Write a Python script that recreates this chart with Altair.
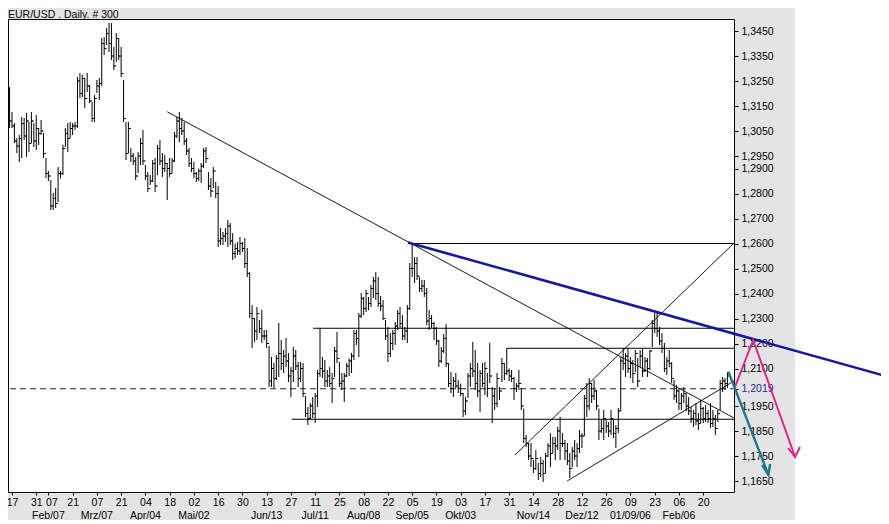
import altair as alt
import pandas as pd

# ------------------------------------------------------------------
# Data: EUR/USD daily bars, prices in pips above 1.0000 (3226 -> 1.3226)
# bar index 0 = 17 Jan 2005 (trading days)
# ------------------------------------------------------------------
FIRST_BAR = -1
FIRST_OPEN = 3140

HIGH = [
    3226, 3126, 3082, 3022, 3034, 3106, 3102, 3122, 3086, 3126,
    3082, 3114, 3062, 3094, 3042, 2942, 2890, 2854, 2802, 2822,
    2906, 2890, 2994, 3062, 3082, 3086, 3082, 3086, 3266, 3282,
    3274, 3262, 3282, 3234, 3166, 3194, 3254, 3262, 3422, 3426,
    3462, 3482, 3482, 3386, 3442, 3422, 3386, 3254, 3086, 3086,
    2982, 2962, 2946, 2966, 3022, 3054, 2914, 2886, 2874, 2934,
    2942, 2994, 3014, 2962, 2954, 2922, 2942, 2942, 3046, 3106,
    3126, 3102, 3086, 3022, 2982, 2942, 2926, 2886, 2900, 2922,
    2982, 2986, 2886, 2862, 2906, 2846, 2830, 2662, 2646, 2662,
    2694, 2682, 2642, 2600, 2606, 2626, 2606, 2622, 2582, 2486,
    2354, 2302, 2346, 2294, 2334, 2254, 2254, 2190, 2146, 2122,
    2154, 2282, 2214, 2174, 2222, 2162, 2106, 2186, 2174, 2126,
    2126, 2122, 1990, 1946, 1962, 1986, 2002, 2094, 2262, 2146,
    2134, 2094, 2106, 2082, 2186, 2246, 2126, 2082, 2082, 2122,
    2140, 2162, 2254, 2254, 2322, 2402, 2386, 2414, 2386, 2434,
    2466, 2486, 2466, 2390, 2374, 2294, 2266, 2242, 2254, 2286,
    2334, 2346, 2314, 2266, 2354, 2522, 2602, 2546, 2546, 2466,
    2454, 2454, 2422, 2334, 2314, 2286, 2266, 2214, 2186, 2238,
    2278, 2122, 2086, 2066, 2082, 2054, 2040, 2002, 1986, 2082,
    2122, 2206, 2174, 2122, 2094, 2122, 2126, 2082, 2202,
    2026, 2022, 2082, 2026, 2142, 2122, 2182, 2100, 2094, 2066,
    2042, 2094, 2022, 1940, 1834, 1802, 1802, 1734, 1774, 1722,
    1746, 1734, 1762, 1802, 1842, 1826, 1826, 1866, 1906, 1842,
    1814, 1802, 1762, 1786, 1814, 1802, 1854, 1842, 1994, 2042,
    2062, 2042, 2054, 2014, 1940, 1894, 1934, 1894, 1886, 1934,
    1894, 1874, 1942, 2146, 2182, 2162, 2182, 2146, 2134, 2174,
    2142, 2174, 2182, 2146, 2142, 2174, 2294, 2322, 2326, 2266,
    2242, 2202, 2146, 2174, 2126, 2054, 2034, 2022, 2002, 2026,
    2000, 1986, 1946, 1934, 1962, 1922, 1974, 1946, 1954, 1934,
    1962, 1934, 1914, 1934, 2054, 2066, 2062, 2086,
]

LOW = [
    3062, 3062, 3002, 2962, 2926, 2942, 3014, 2946, 2966, 3002,
    2986, 2974, 2994, 3034, 2942, 2862, 2850, 2734, 2734, 2742,
    2766, 2860, 2874, 2986, 2966, 3022, 3034, 3054, 3062, 3182,
    3186, 3142, 3206, 3162, 3086, 3086, 3202, 3174, 3230, 3354,
    3394, 3366, 3334, 3294, 3326, 3334, 3266, 3086, 2934, 2962,
    2926, 2914, 2854, 2882, 2914, 2914, 2854, 2806, 2834, 2846,
    2806, 2874, 2914, 2866, 2886, 2774, 2866, 2882, 2926, 3022,
    3006, 3034, 2994, 2954, 2906, 2886, 2862, 2846, 2850, 2842,
    2902, 2922, 2814, 2786, 2822, 2782, 2586, 2594, 2594, 2606,
    2586, 2594, 2534, 2540, 2554, 2554, 2566, 2502, 2466, 2302,
    2182, 2206, 2214, 2242, 2202, 2214, 2182, 2026, 2026, 2022,
    2054, 2066, 2094, 2082, 2106, 2046, 1986, 2046, 2094, 2026,
    2046, 1986, 1906, 1874, 1894, 1902, 1882, 1946, 2066, 2062,
    2026, 2026, 2026, 1962, 2066, 2122, 2026, 2014, 1966, 2066,
    2070, 2082, 2134, 2194, 2146, 2302, 2314, 2326, 2334, 2346,
    2382, 2374, 2346, 2330, 2294, 2214, 2126, 2146, 2174, 2194,
    2254, 2262, 2214, 2214, 2202, 2334, 2466, 2442, 2454, 2406,
    2406, 2386, 2274, 2254, 2262, 2214, 2194, 2106, 2122, 2162,
    2106, 2026, 2002, 1986, 2022, 2002, 1990, 1906, 1914, 1982,
    2026, 2066, 2014, 1986, 1926, 2026, 1994, 1986, 2042,
    1882, 1934, 1946, 1974, 2046, 2054, 2074, 2050, 2046, 1974,
    2006, 2014, 1934, 1802, 1786, 1734, 1706, 1682, 1694, 1654,
    1666, 1646, 1682, 1746, 1706, 1762, 1734, 1774, 1734, 1786,
    1734, 1714, 1662, 1706, 1734, 1706, 1762, 1782, 1830, 1906,
    1934, 1962, 1974, 1934, 1814, 1842, 1814, 1842, 1826, 1834,
    1822, 1782, 1842, 1930, 2094, 2066, 2082, 2062, 2042, 2086,
    2026, 2106, 2066, 2086, 2066, 2094, 2186, 2242, 2226, 2194,
    2162, 2086, 2074, 2106, 2042, 1974, 1962, 1934, 1934, 1962,
    1930, 1914, 1882, 1866, 1874, 1854, 1882, 1882, 1886, 1882,
    1862, 1866, 1834, 1886, 1934, 2006, 2014, 2022,
]

CLOSE = [
    3090, 3070, 3010, 2990, 3020, 3080, 3030, 3090, 3000, 3090,
    3010, 3060, 3040, 3050, 2960, 2880, 2870, 2750, 2780, 2760,
    2880, 2880, 2980, 3040, 3020, 3060, 3070, 3070, 3250, 3200,
    3260, 3180, 3230, 3170, 3100, 3180, 3230, 3240, 3400, 3380,
    3440, 3400, 3350, 3310, 3420, 3350, 3280, 3100, 2960, 3060,
    2950, 2930, 2870, 2950, 3000, 2930, 2870, 2820, 2850, 2920,
    2830, 2980, 2930, 2900, 2920, 2900, 2880, 2930, 3030, 3090,
    3060, 3050, 3010, 2970, 2920, 2900, 2880, 2860, 2890, 2910,
    2970, 2940, 2830, 2810, 2890, 2800, 2610, 2620, 2630, 2640,
    2670, 2610, 2560, 2580, 2570, 2600, 2580, 2520, 2480, 2320,
    2300, 2250, 2320, 2260, 2230, 2230, 2200, 2050, 2100, 2060,
    2140, 2160, 2120, 2150, 2130, 2070, 2090, 2150, 2110, 2060,
    2100, 2000, 1920, 1900, 1950, 1920, 1990, 2080, 2100, 2090,
    2050, 2070, 2040, 2060, 2170, 2140, 2040, 2050, 2070, 2110,
    2130, 2150, 2240, 2220, 2310, 2380, 2340, 2400, 2360, 2420,
    2450, 2400, 2360, 2350, 2300, 2230, 2160, 2200, 2240, 2270,
    2320, 2280, 2230, 2250, 2340, 2500, 2500, 2520, 2470, 2420,
    2430, 2400, 2290, 2300, 2280, 2260, 2210, 2130, 2170, 2220,
    2120, 2040, 2020, 2050, 2030, 2020, 2000, 1930, 1970, 2070,
    2100, 2090, 2040, 2010, 2080, 2040, 2100, 2020, 2070,
    1990, 1960, 2060, 2010, 2120, 2080, 2090, 2070, 2060, 2020,
    2030, 2040, 1950, 1820, 1800, 1750, 1740, 1700, 1740, 1680,
    1720, 1680, 1750, 1790, 1760, 1800, 1790, 1850, 1800, 1800,
    1770, 1730, 1700, 1770, 1750, 1780, 1830, 1830, 1980, 1950,
    2040, 1990, 2010, 1950, 1850, 1860, 1900, 1870, 1850, 1900,
    1840, 1860, 1930, 2130, 2120, 2150, 2100, 2120, 2080, 2160,
    2050, 2150, 2090, 2130, 2100, 2170, 2280, 2260, 2250, 2210,
    2180, 2100, 2130, 2120, 2060, 1990, 2010, 1960, 1990, 2000,
    1950, 1930, 1900, 1920, 1890, 1880, 1940, 1900, 1920, 1900,
    1880, 1900, 1860, 1920, 2040, 2050, 2040, 2070,
]

# axis ticks / labels
DAY_TICKS = [0, 10, 15, 25, 35, 45, 55, 65, 75, 85, 95, 105, 115, 125, 135,
             145, 155, 165, 175, 185, 195, 205, 215, 225, 235, 245, 255, 265, 275, 285]
DAY_LABELS = ["17", "31", "07", "21", "07", "21", "04", "18", "02", "16", "30", "13", "27", "11", "25",
              "08", "22", "05", "19", "03", "17", "31", "14", "28", "12", "26", "09", "23", "06", "20"]
MONTH_TICKS = [15, 35, 55, 75, 105, 125, 145, 165, 185, 215, 235, 255, 275]
MONTH_LABELS = ["Feb/07", "Mrz/07", "Apr/04", "Mai/02", "Jun/13", "Jul/11", "Aug/08",
                "Sep/05", "Okt/03", "Nov/14", "Dez/12", "01/09/06", "Feb/06"]
PRICE_TICKS = [1.3450, 1.3350, 1.3250, 1.3150, 1.3050, 1.2950, 1.2900, 1.2800, 1.2700,
               1.2600, 1.2500, 1.2400, 1.2300, 1.2200, 1.2100, 1.2019, 1.1950, 1.1850,
               1.1750, 1.1650]

# drawn annotations (bar index, price)
LEVEL_START = [163.3, 124.1, 204.1, 115.3]
LEVEL_PRICE = [1.2600, 1.2261, 1.2181, 1.1897]
TREND_X1 = [64.0, 207.4, 228.9]
TREND_Y1 = [1.3127, 1.1754, 1.1650]
TREND_X2 = [297.7, 297.7, 297.7]
TREND_Y2 = [1.1902, 1.2602, 1.2050]
BLUE_X = [163.3, 361.6]
BLUE_Y = [1.2604, 1.2066]
DASH_START = -0.8
DASH_PRICE = 1.2019
PINK_X = [298.1, 305.6, 322.9]
PINK_Y = [1.2026, 1.2214, 1.1746]
PINK_HEAD_X = [320.0, 322.9, 324.9]
PINK_HEAD_Y = [1.1782, 1.1746, 1.1786]
TEAL_X = [295.4, 311.9]
TEAL_Y = [1.2087, 1.1674]
TEAL_HEAD_X = [309.3, 311.9, 312.6]
TEAL_HEAD_Y = [1.1714, 1.1674, 1.1718]

TITLE = "EUR/USD . Daily. # 300"

# ------------------------------------------------------------------
W, H = 726, 473
FONT = "Liberation Sans"
FS = 10.5


def px(p):
    return 1 + p / 10000.0


n = len(HIGH)
bars = pd.DataFrame({
    "i": list(range(FIRST_BAR, FIRST_BAR + n)),
    "high": [px(v) for v in HIGH],
    "low": [px(v) for v in LOW],
    "close": [px(v) for v in CLOSE],
})
# FX daily bars open at the prior close
bars["open"] = [px(FIRST_OPEN)] + bars["close"].tolist()[:-1]

xscale = alt.Scale(domain=[-1.65, 297.7], nice=False, zero=False)
yscale = alt.Scale(domain=[1.1606, 1.3498], nice=False, zero=False)

day_expr = "[" + ",".join("'%s'" % s for s in DAY_LABELS) + "][indexof([" + \
    ",".join(str(v) for v in DAY_TICKS) + "], datum.value)]"

xaxis = alt.Axis(values=DAY_TICKS, labelExpr=day_expr, title=None, grid=False,
                 domain=False, ticks=True, tickSize=3, tickColor="black",
                 labelPadding=2, labelFont=FONT, labelFontSize=FS, labelColor="black",
                 labelOverlap=False, labelFlush=False, labelBaseline="top",
                 labelOffset={"condition": {"test": "datum.value == 15", "value": 3},
                              "value": 0})
yaxis = alt.Axis(orient="right", values=PRICE_TICKS,
                 labelExpr="replace(format(datum.value, '.4f'), '.', ',')",
                 title=None, grid=False, domain=False, ticks=True, tickSize=4,
                 tickColor="black", labelPadding=3, labelFont=FONT, labelFontSize=FS,
                 labelOverlap=False, labelFlush=False,
                 labelColor={"condition": {"test": "abs(datum.value - 1.2019) < 0.00001",
                                           "value": "#2b2b9a"}, "value": "black"})


def X(f):
    return alt.X(f, type="quantitative", scale=xscale, axis=xaxis)


def Y(f):
    return alt.Y(f, type="quantitative", scale=yscale, axis=yaxis)


one = pd.DataFrame({"k": [0]})

bg_right = alt.Chart(one).mark_rect(color="white", clip=False).encode(
    x=alt.value(787), x2=alt.value(900), y=alt.value(-30), y2=alt.value(560))

hl = alt.Chart(bars).mark_rule(color="black", strokeWidth=1).encode(
    x=X("i"), y=Y("low"), y2=alt.Y2("high"))
op = alt.Chart(bars).transform_calculate(xo="datum.i - 0.65").mark_rule(
    color="black", strokeWidth=1).encode(x=X("xo"), x2=alt.X2("i"), y=Y("open"))
cl = alt.Chart(bars).transform_calculate(xc="datum.i + 0.65").mark_rule(
    color="black", strokeWidth=1).encode(x=X("i"), x2=alt.X2("xc"), y=Y("close"))

levels = alt.Chart(pd.DataFrame({"x1": LEVEL_START, "p": LEVEL_PRICE})).mark_rule(
    color="black", strokeWidth=1).encode(x=X("x1"), x2=alt.value(W), y=Y("p"))

trends = alt.Chart(pd.DataFrame({"x1": TREND_X1, "y1": TREND_Y1, "x2": TREND_X2,
                                 "y2": TREND_Y2})).mark_rule(
    color="black", strokeWidth=0.9).encode(x=X("x1"), y=Y("y1"), x2=alt.X2("x2"),
                                           y2=alt.Y2("y2"))

dashed = alt.Chart(pd.DataFrame({"x1": [DASH_START], "p": [DASH_PRICE]})).mark_rule(
    color="#1c1c5a", strokeWidth=1, strokeDash=[6, 4]).encode(
    x=X("x1"), x2=alt.value(W), y=Y("p"))

blue = alt.Chart(pd.DataFrame({"x1": [BLUE_X[0]], "y1": [BLUE_Y[0]], "x2": [BLUE_X[1]],
                               "y2": [BLUE_Y[1]]})).mark_rule(
    color="#1616a0", strokeWidth=2.6, clip=False).encode(
    x=X("x1"), y=Y("y1"), x2=alt.X2("x2"), y2=alt.Y2("y2"))


def path_df(xs, ys, hx, hy):
    rows = []
    for k, (a, b) in enumerate(zip(xs, ys)):
        rows.append({"x": a, "y": b, "part": "path", "k": k})
    for k, (a, b) in enumerate(zip(hx, hy)):
        rows.append({"x": a, "y": b, "part": "head", "k": k})
    return pd.DataFrame(rows)


pink = alt.Chart(path_df(PINK_X, PINK_Y, PINK_HEAD_X, PINK_HEAD_Y)).mark_line(
    color="#d8288a", strokeWidth=2, clip=False).encode(
    x=X("x"), y=Y("y"), detail="part:N", order="k:Q")
teal = alt.Chart(path_df(TEAL_X, TEAL_Y, TEAL_HEAD_X, TEAL_HEAD_Y)).mark_line(
    color="#1f7a8c", strokeWidth=2.4, clip=False).encode(
    x=X("x"), y=Y("y"), detail="part:N", order="k:Q")

months = alt.Chart(pd.DataFrame({"i": MONTH_TICKS, "t": MONTH_LABELS})).mark_text(
    font=FONT, fontSize=FS, color="black", align="center", baseline="top",
    clip=False).encode(x=X("i"), y=alt.value(H + 19), text="t:N")

title = alt.Chart(one).mark_text(
    font=FONT, fontSize=FS, color="black", align="left", baseline="alphabetic",
    clip=False, text=TITLE).encode(x=alt.value(0), y=alt.value(-1.5))

chart = alt.layer(
    bg_right, levels, trends, dashed, hl, op, cl, blue, pink, teal, months, title
).properties(
    width=W, height=H, background="#e4e4e4",
    padding={"left": 0, "top": 11, "right": 147, "bottom": 28},
    autosize=alt.AutoSizeParams(type="none"),
).configure_view(stroke="black", strokeWidth=1, fill="white")

chart.save("out.html", embed_options={"renderer": "svg", "actions": False})
